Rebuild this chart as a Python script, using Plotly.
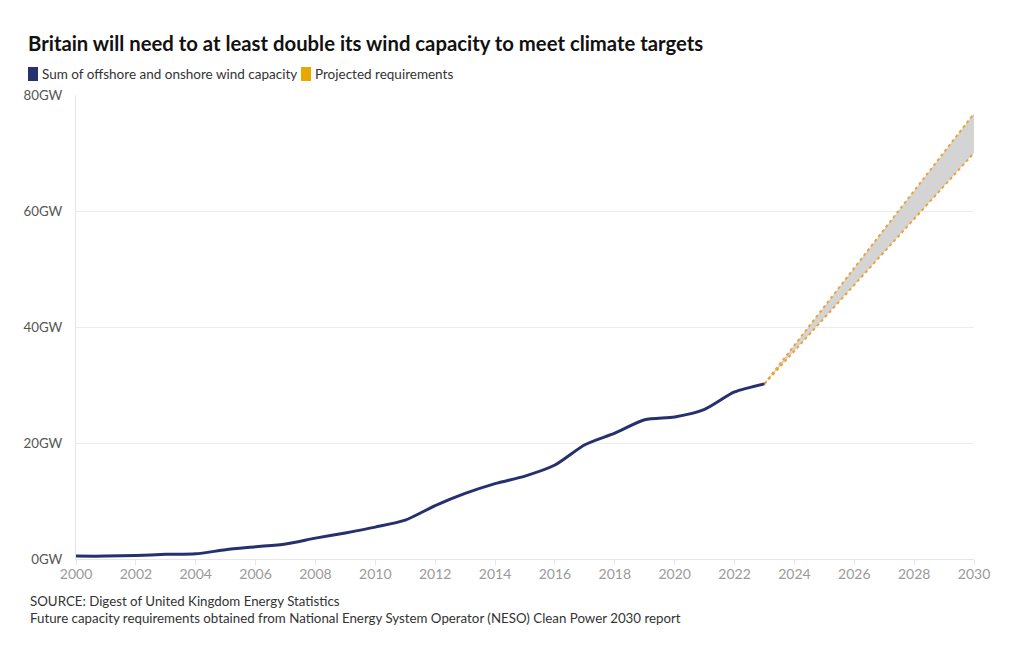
import plotly.graph_objects as go

years = list(range(2000, 2024))
capacity_gw = [0.5, 0.5, 0.6, 0.8, 0.9, 1.6, 2.1, 2.6, 3.6, 4.5, 5.5, 6.7,
               9.2, 11.3, 13.0, 14.3, 16.2, 19.7, 21.7, 24.0, 24.5, 25.8, 28.8, 30.2]

proj_years = [2023, 2030]
proj_low = [30.2, 70.0]
proj_high = [30.2, 76.8]

y_ticks = [0, 20, 40, 60, 80]
y_labels = ["0GW", "20GW", "40GW", "60GW", "80GW"]
x_ticks = list(range(2000, 2031, 2))

legend_names = ["Sum of offshore and onshore wind capacity", "Projected requirements"]

NAVY = "#26306f"
ORANGE = "#eba33a"
LEG_ORANGE = "#e9a800"
FONT = "Lato"

W, H = 1020, 650
L, R, T, B = 76, 46, 95, 91
PW, PH = W - L - R, H - T - B


def px_x(px):
    return (px - L) / PW


def px_y(py):
    return 1 - (py - T) / PH


fig = go.Figure()

fig.add_trace(go.Scatter(x=proj_years, y=proj_low, mode="lines",
                         line=dict(color=ORANGE, width=2, dash="dot"),
                         showlegend=False, hoverinfo="skip"))
fig.add_trace(go.Scatter(x=proj_years, y=proj_high, mode="lines",
                         line=dict(color=ORANGE, width=2, dash="dot"),
                         fill="tonexty", fillcolor="#d4d4d4",
                         showlegend=False, hoverinfo="skip"))
fig.add_trace(go.Scatter(x=years, y=capacity_gw, mode="lines",
                         line=dict(color=NAVY, width=3, shape="spline", smoothing=0.7),
                         showlegend=False))

# manual legend
leg_items = [(28, legend_names[0], NAVY), (301, legend_names[1], LEG_ORANGE)]
for x0, name, col in leg_items:
    fig.add_shape(type="rect", xref="paper", yref="paper",
                  x0=px_x(x0), x1=px_x(x0 + 10), y0=px_y(81), y1=px_y(67),
                  fillcolor=col, line=dict(width=0), layer="above")
    fig.add_annotation(text=name, xref="paper", yref="paper",
                       x=px_x(x0 + 12), y=px_y(74), xanchor="left", yanchor="middle",
                       showarrow=False, font=dict(size=13.5, color="#333", family=FONT))

fig.update_layout(
    width=W, height=H,
    paper_bgcolor="white", plot_bgcolor="white",
    margin=dict(l=L, r=R, t=T, b=B, autoexpand=False),
    font=dict(family=FONT, size=13, color="#333"),
    title=dict(text="<b>Britain will need to at least double its wind capacity to meet climate targets</b>",
               x=28 / W, xanchor="left", y=1 - 44 / H, yanchor="middle",
               font=dict(size=20.3, color="#111", family=FONT)),
    showlegend=False,
    xaxis=dict(range=[2000, 2030], tickvals=x_ticks, ticktext=[str(t) for t in x_ticks],
               showgrid=False, showline=True, linecolor="#e6e6e6", linewidth=1,
               ticks="outside", ticklen=5, tickcolor="#e6e6e6", ticklabelstandoff=-3,
               tickfont=dict(size=14, color="#9a9a9a"), zeroline=False, fixedrange=True),
    yaxis=dict(range=[0, 80], tickvals=y_ticks, ticktext=y_labels,
               showgrid=True, gridcolor="#ececec", gridwidth=1,
               showline=True, linecolor="#e6e6e6", zeroline=False,
               tickfont=dict(size=13.3, color="#555"), ticks="", ticklabelstandoff=10),
)

fig.add_annotation(text="SOURCE: Digest of United Kingdom Energy Statistics<br>Future capacity requirements obtained from National Energy System Operator (NESO) Clean Power 2030 report",
                   xref="paper", yref="paper", x=px_x(28), y=px_y(591), xanchor="left", yanchor="top",
                   align="left", showarrow=False, font=dict(size=13.3, color="#333", family=FONT))

fig.write_html("out.html", config={"displayModeBar": False},
               post_script="document.body.style.margin='0px';")
